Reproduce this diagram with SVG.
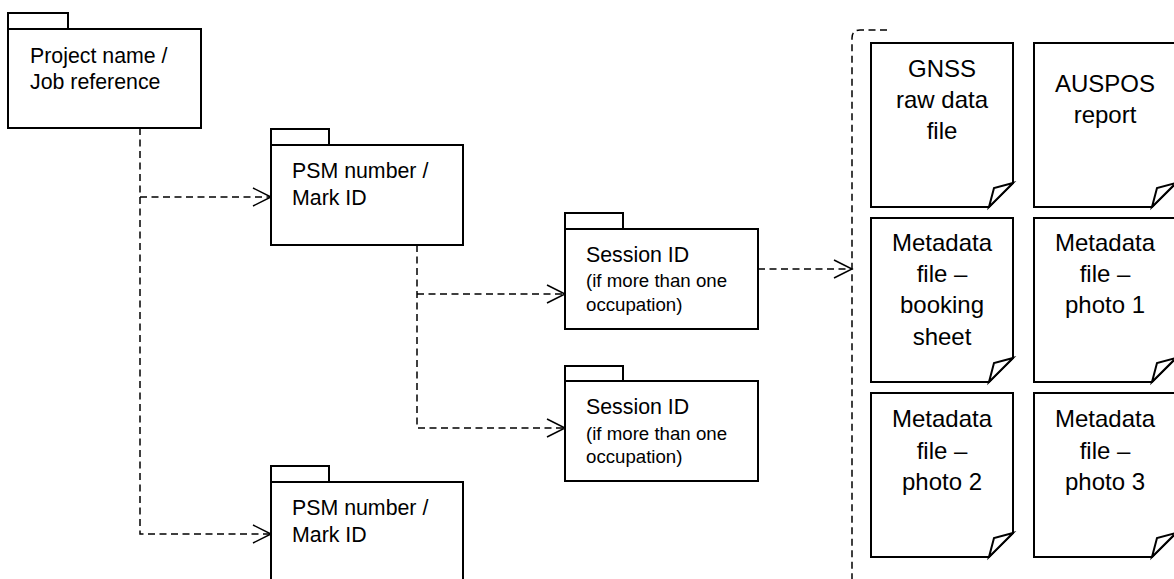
<svg xmlns="http://www.w3.org/2000/svg" width="1174" height="579" viewBox="0 0 1174 579">
<style>
.box{fill:#fff;stroke:#000;stroke-width:2}
.conn{fill:none;stroke:#000;stroke-width:1.5;stroke-dasharray:7 4.5}
.t{font-family:"Liberation Sans",Arial,sans-serif;font-size:21.33px;fill:#000}
.s{font-family:"Liberation Sans",Arial,sans-serif;font-size:18.67px;fill:#000}
.d{font-family:"Liberation Sans",Arial,sans-serif;font-size:24px;fill:#000;text-anchor:middle}
</style>
<defs>
<marker id="arr" markerUnits="userSpaceOnUse" markerWidth="20" markerHeight="20" refX="18" refY="9" orient="auto" overflow="visible">
<path d="M0,0 L18,9 L0,18" fill="none" stroke="#000" stroke-width="1.5" stroke-dasharray="none"/>
</marker>
</defs>
<rect width="1174" height="579" fill="#fff"/>

<g id="connectors">
<path class="conn" d="M140,128 V534 H271" marker-end="url(#arr)"/>
<path class="conn" d="M140,197 H271" marker-end="url(#arr)"/>
<path class="conn" d="M417,245 V428 H565" marker-end="url(#arr)"/>
<path class="conn" d="M417,294 H565" marker-end="url(#arr)"/>
<path class="conn" d="M758,269 H852" marker-end="url(#arr)"/>
<path class="conn" d="M887,30 H860 Q852,30 852,38 V579"/>
</g>

<g id="project">
<rect class="box" x="8" y="13" width="60" height="16"/>
<rect class="box" x="8" y="29" width="193" height="99"/>
<text class="t" x="30" y="63">Project name /</text>
<text class="t" x="30" y="89">Job reference</text>
</g>

<g id="psm1">
<rect class="box" x="271" y="129" width="58" height="16"/>
<rect class="box" x="271" y="145" width="192" height="100"/>
<text class="t" x="292" y="178">PSM number /</text>
<text class="t" x="292" y="205">Mark ID</text>
</g>

<g id="psm2">
<rect class="box" x="271" y="466" width="58" height="16"/>
<rect class="box" x="271" y="482" width="192" height="100"/>
<text class="t" x="292" y="515">PSM number /</text>
<text class="t" x="292" y="542">Mark ID</text>
</g>

<g id="session1">
<rect class="box" x="565" y="213" width="58" height="16"/>
<rect class="box" x="565" y="229" width="193" height="100"/>
<text class="t" x="586" y="262">Session ID</text>
<text class="s" x="586" y="287">(if more than one</text>
<text class="s" x="586" y="311">occupation)</text>
</g>

<g id="session2">
<rect class="box" x="565" y="366" width="58" height="15"/>
<rect class="box" x="565" y="381" width="193" height="100"/>
<text class="t" x="586" y="414">Session ID</text>
<text class="s" x="586" y="440">(if more than one</text>
<text class="s" x="586" y="463">occupation)</text>
</g>

<g id="doc-gnss">
<path class="box" d="M871,43 H1013 V183 L989,207 H871 Z"/>
<path class="box" d="M1013,183 L994,188 L989,207 Z"/>
<text class="d" x="942" y="77">GNSS</text>
<text class="d" x="942" y="108">raw data</text>
<text class="d" x="942" y="139">file</text>
</g>

<g id="doc-auspos">
<path class="box" d="M1034,43 H1176 V183 L1152,207 H1034 Z"/>
<path class="box" d="M1176,183 L1157,188 L1152,207 Z"/>
<text class="d" x="1105" y="92">AUSPOS</text>
<text class="d" x="1105" y="123">report</text>
</g>

<g id="doc-booking">
<path class="box" d="M871,218 H1013 V358 L989,382 H871 Z"/>
<path class="box" d="M1013,358 L994,363 L989,382 Z"/>
<text class="d" x="942" y="251">Metadata</text>
<text class="d" x="942" y="282">file –</text>
<text class="d" x="942" y="313">booking</text>
<text class="d" x="942" y="345">sheet</text>
</g>

<g id="doc-photo1">
<path class="box" d="M1034,218 H1176 V358 L1152,382 H1034 Z"/>
<path class="box" d="M1176,358 L1157,363 L1152,382 Z"/>
<text class="d" x="1105" y="251">Metadata</text>
<text class="d" x="1105" y="282">file –</text>
<text class="d" x="1105" y="313">photo 1</text>
</g>

<g id="doc-photo2">
<path class="box" d="M871,393 H1013 V533 L989,557 H871 Z"/>
<path class="box" d="M1013,533 L994,538 L989,557 Z"/>
<text class="d" x="942" y="427">Metadata</text>
<text class="d" x="942" y="459">file –</text>
<text class="d" x="942" y="490">photo 2</text>
</g>

<g id="doc-photo3">
<path class="box" d="M1034,393 H1176 V533 L1152,557 H1034 Z"/>
<path class="box" d="M1176,533 L1157,538 L1152,557 Z"/>
<text class="d" x="1105" y="427">Metadata</text>
<text class="d" x="1105" y="459">file –</text>
<text class="d" x="1105" y="490">photo 3</text>
</g>
</svg>
